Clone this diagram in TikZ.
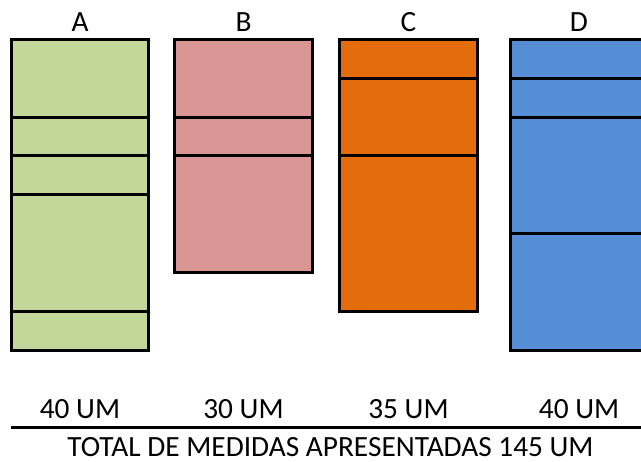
\documentclass[tikz,border=0pt]{standalone}
\usepackage{fontspec}
\setmainfont{Carlito}
\definecolor{fillA}{HTML}{C4D79B}
\definecolor{fillB}{HTML}{D99694}
\definecolor{fillC}{HTML}{E46C0A}
\definecolor{fillD}{HTML}{558ED5}
\tikzset{
  blk/.style={line width=2.25pt, line join=miter},
  lbl/.style={anchor=base, inner sep=0pt, font=\fontsize{22}{26}\selectfont}
}
\begin{document}
\begin{tikzpicture}[x=0.75pt,y=0.75pt,yscale=-1,xscale=1]
%set diagram left start at 0, and has height of 461
\useasboundingbox (0,0) rectangle (641,461);

%Shape: Rectangle [A]
\draw [blk, fill=fillA] (11,39.5) -- (148.5,39.5) -- (148.5,350) -- (11,350) -- cycle ;
%Straight Lines [A parts]
\draw [blk] (11,117.1) -- (148.5,117.1) ;
\draw [blk] (11,155.9) -- (148.5,155.9) ;
\draw [blk] (11,194.7) -- (148.5,194.7) ;
\draw [blk] (11,311.1) -- (148.5,311.1) ;

%Shape: Rectangle [B]
\draw [blk, fill=fillB] (174.5,39.5) -- (312.5,39.5) -- (312.5,272.3) -- (174.5,272.3) -- cycle ;
%Straight Lines [B parts]
\draw [blk] (174.5,117.1) -- (312.5,117.1) ;
\draw [blk] (174.5,155.9) -- (312.5,155.9) ;

%Shape: Rectangle [C]
\draw [blk, fill=fillC] (339.5,39.5) -- (477.5,39.5) -- (477.5,311.1) -- (339.5,311.1) -- cycle ;
%Straight Lines [C parts]
\draw [blk] (339.5,78.3) -- (477.5,78.3) ;
\draw [blk] (339.5,155.9) -- (477.5,155.9) ;

%Shape: Rectangle [D]
\draw [blk, fill=fillD] (510,39.5) -- (648,39.5) -- (648,350) -- (510,350) -- cycle ;
%Straight Lines [D parts]
\draw [blk] (510,78.3) -- (648,78.3) ;
\draw [blk] (510,117.1) -- (648,117.1) ;
\draw [blk] (510,233.5) -- (648,233.5) ;

% Text Node
\node (nameA) [lbl] at (80,31.7) {A};
% Text Node
\node (nameB) [lbl] at (243.5,31.7) {B};
% Text Node
\node (nameC) [lbl] at (408.5,31.7) {C};
% Text Node
\node (nameD) [lbl] at (579,31.7) {D};

% Text Node
\node (sizeA) [lbl] at (80,418.3) {40 UM};
% Text Node
\node (sizeB) [lbl] at (243.5,418.3) {30 UM};
% Text Node
\node (sizeC) [lbl] at (408.5,418.3) {35 UM};
% Text Node
\node (sizeD) [lbl] at (579,418.3) {40 UM};

%Straight Lines [sum]
\coordinate (sumL) at (11,427.5);
\coordinate (sumR) at (641,427.5);
\draw [blk] (sumL) -- (sumR) ;

% Text Node
\node (total) [lbl] at (330.5,456) {TOTAL DE MEDIDAS APRESENTADAS 145 UM};

\end{tikzpicture}
\end{document}
